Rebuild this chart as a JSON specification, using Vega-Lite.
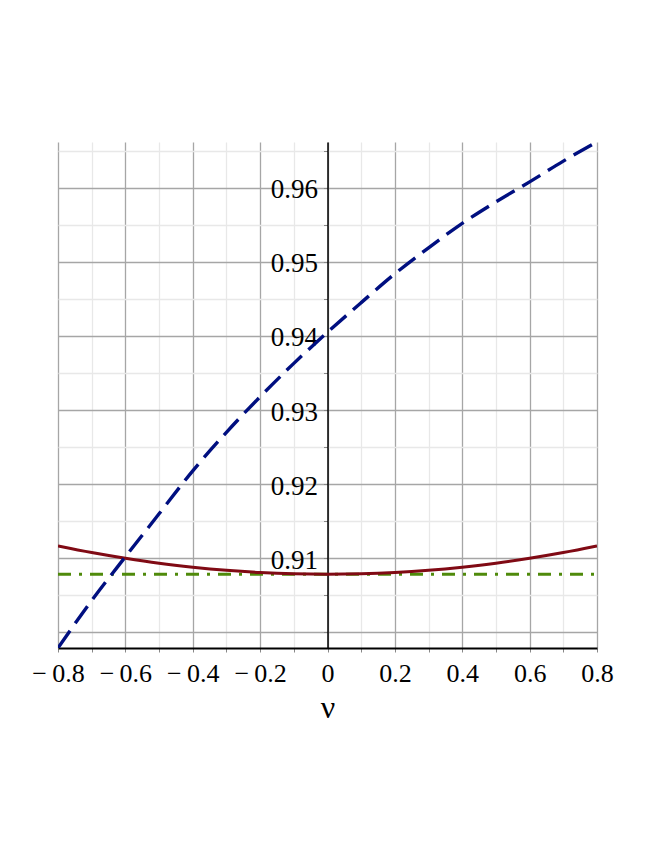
{
  "$schema": "https://vega.github.io/schema/vega-lite/v6.json",
  "width": 539,
  "height": 506,
  "autosize": {"type": "none"},
  "padding": {"left": 58, "top": 142, "right": 67, "bottom": 212},
  "background": "white",
  "config": {
    "view": {"stroke": null},
    "font": "Liberation Serif"
  },
  "datasets": {
    "curves": [
      {"nu": -0.8, "red": 0.91166, "blue": 0.8979, "green": 0.90784},
      {"nu": -0.7, "red": 0.91077, "blue": 0.9043, "green": 0.90784},
      {"nu": -0.6, "red": 0.91000, "blue": 0.9102, "green": 0.90784},
      {"nu": -0.5, "red": 0.90933, "blue": 0.9160, "green": 0.90784},
      {"nu": -0.4, "red": 0.90880, "blue": 0.9218, "green": 0.90784},
      {"nu": -0.3, "red": 0.90838, "blue": 0.9270, "green": 0.90784},
      {"nu": -0.2, "red": 0.90808, "blue": 0.9318, "green": 0.90784},
      {"nu": -0.1, "red": 0.90790, "blue": 0.9363, "green": 0.90784},
      {"nu": 0.0, "red": 0.90784, "blue": 0.9405, "green": 0.90784},
      {"nu": 0.1, "red": 0.90790, "blue": 0.9445, "green": 0.90784},
      {"nu": 0.2, "red": 0.90808, "blue": 0.9484, "green": 0.90784},
      {"nu": 0.3, "red": 0.90838, "blue": 0.9519, "green": 0.90784},
      {"nu": 0.4, "red": 0.90880, "blue": 0.9552, "green": 0.90784},
      {"nu": 0.5, "red": 0.90933, "blue": 0.9581, "green": 0.90784},
      {"nu": 0.6, "red": 0.91000, "blue": 0.9608, "green": 0.90784},
      {"nu": 0.7, "red": 0.91077, "blue": 0.9636, "green": 0.90784},
      {"nu": 0.8, "red": 0.91166, "blue": 0.9662, "green": 0.90784}
    ]
  },
  "data": {"name": "curves"},
  "encoding": {
    "x": {
      "field": "nu",
      "type": "quantitative",
      "scale": {"domain": [-0.8, 0.8], "nice": false, "zero": false},
      "axis": {
        "title": "ν",
        "titleFont": "Liberation Serif",
        "titleFontSize": 32,
        "titleFontWeight": "normal",
        "titleColor": "black",
        "titlePadding": 6,
        "values": [-0.8, -0.7, -0.6, -0.5, -0.4, -0.3, -0.2, -0.1, 0, 0.1, 0.2, 0.3, 0.4, 0.5, 0.6, 0.7, 0.8],
        "labelExpr": "abs(round(datum.value*10))%2 == 0 ? (abs(datum.value) < 0.001 ? '0' : (datum.value < 0 ? '−\u2009' + format(-datum.value, '.1f') : format(datum.value, '.1f'))) : ''",
        "labelFont": "Liberation Serif",
        "labelFontSize": 26,
        "labelColor": "black",
        "labelPadding": 8,
        "labelOverlap": false,
        "labelFlush": false,
        "domainColor": "black",
        "domainWidth": 2,
        "tickColor": "#888888",
        "tickSize": 4,
        "tickWidth": 1,
        "grid": true,
        "gridColor": {"condition": {"test": "abs(round(datum.value*10))%2 == 0", "value": "#a6a6a6"}, "value": "#e8e8e8"},
        "gridWidth": 1.3
      }
    },
    "y": {
      "type": "quantitative",
      "scale": {"domain": [0.89789, 0.96618], "nice": false, "zero": false},
      "axis": {
        "title": null,
        "offset": -269.5,
        "values": [0.9, 0.905, 0.91, 0.915, 0.92, 0.925, 0.93, 0.935, 0.94, 0.945, 0.95, 0.955, 0.96, 0.965],
        "labelExpr": "(abs(round(datum.value*1000))%10 == 0 && datum.value > 0.901) ? format(datum.value, '.2f') : ''",
        "labelFont": "Liberation Serif",
        "labelFontSize": 27,
        "labelColor": "black",
        "labelPadding": 6,
        "labelOverlap": false,
        "labelFlush": false,
        "labelBaseline": "middle",
        "labelOffset": 2,
        "domainColor": "black",
        "domainWidth": 1.5,
        "tickColor": "#888888",
        "tickSize": 4,
        "tickWidth": 1,
        "grid": true,
        "gridColor": {"condition": {"test": "abs(round(datum.value*1000))%10 == 0", "value": "#a6a6a6"}, "value": "#e8e8e8"},
        "gridWidth": 1.3
      }
    }
  },
  "layer": [
    {
      "mark": {"type": "line", "color": "#4f8a0b", "strokeWidth": 3, "strokeDash": [13, 8, 3, 8], "clip": true},
      "encoding": {"y": {"field": "green", "type": "quantitative"}}
    },
    {
      "mark": {"type": "line", "color": "#800a14", "strokeWidth": 3, "interpolate": "monotone", "clip": true},
      "encoding": {"y": {"field": "red", "type": "quantitative"}}
    },
    {
      "mark": {"type": "line", "color": "#000f80", "strokeWidth": 3.4, "strokeDash": [21, 9], "interpolate": "monotone", "clip": true},
      "encoding": {"y": {"field": "blue", "type": "quantitative"}}
    }
  ]
}
